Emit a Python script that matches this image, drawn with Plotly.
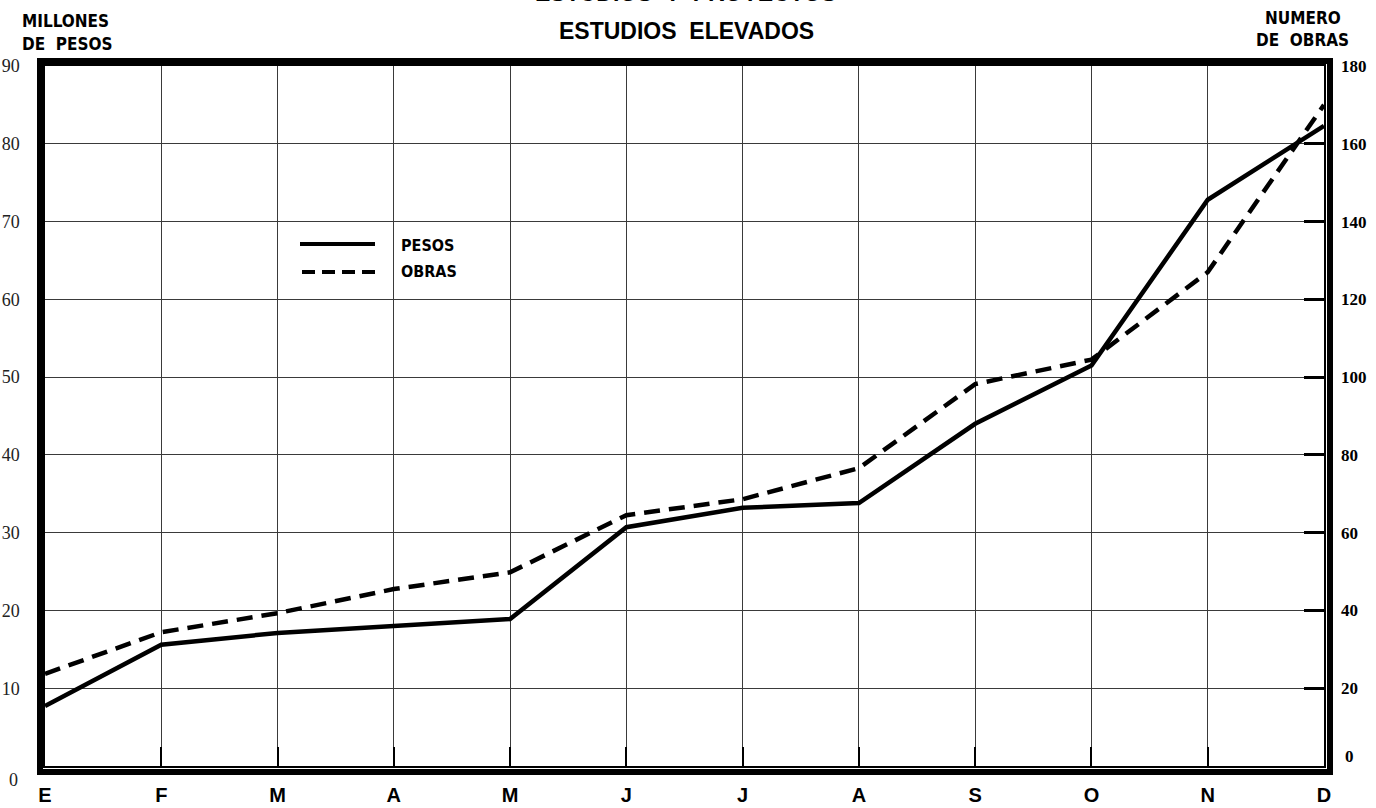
import plotly.graph_objects as go

months = ["E", "F", "M", "A", "M", "J", "J", "A", "S", "O", "N", "D"]
pesos = [7.7, 15.6, 17.1, 18.0, 18.9, 30.7, 33.2, 33.8, 44.0, 51.5, 72.8, 82.3]
obras = [23.7, 34.4, 39.3, 45.5, 49.8, 64.5, 68.6, 76.6, 98.2, 104.5, 127.0, 170.0]
left_ticks = [10, 20, 30, 40, 50, 60, 70, 80, 90]
right_ticks = [20, 40, 60, 80, 100, 120, 140, 160, 180]

W, H = 1376, 808
L, R, T, B = 45, 1324, 66, 766
PW, PH = R - L, B - T


def px(x):
    return (x - L) / PW


def py(y):
    return (B - y) / PH


xs = list(range(len(months)))

fig = go.Figure()
fig.add_trace(go.Scatter(x=xs, y=pesos, mode="lines", name="PESOS",
                         line=dict(color="black", width=4.5), yaxis="y"))
fig.add_trace(go.Scatter(x=xs, y=obras, mode="lines", name="OBRAS",
                         line=dict(color="black", width=4.5, dash="16px,9px"),
                         yaxis="y2"))

grid = "#3a3a3a"
fig.update_layout(
    width=W, height=H,
    margin=dict(l=L, r=W - R, t=T, b=H - B, autoexpand=False),
    paper_bgcolor="white", plot_bgcolor="white",
    showlegend=False,
    xaxis=dict(range=[0, 11], tickvals=xs, ticktext=months,
               showgrid=True, gridcolor=grid, gridwidth=1,
               showline=True, linecolor="black", linewidth=1.5, mirror=True,
               ticks="inside", ticklen=19, tickwidth=2, tickcolor="black",
               ticklabelstandoff=10,
               tickfont=dict(family="Liberation Sans, Arial", size=20, color="black", weight="bold"),
               zeroline=False, fixedrange=True, automargin=False),
    yaxis=dict(range=[0, 90], tickvals=left_ticks,
               showgrid=True, gridcolor=grid, gridwidth=1,
               showline=True, linecolor="black", linewidth=1.5, mirror=True,
               ticks="", ticklabelstandoff=20,
               tickfont=dict(family="Liberation Serif, Times New Roman", size=18, color="#222"),
               zeroline=False, automargin=False),
    yaxis2=dict(range=[0, 180], tickvals=right_ticks, overlaying="y", side="right",
                showgrid=False, showline=False,
                ticks="inside", ticklen=20, tickwidth=2.5, tickcolor="black",
                ticklabelstandoff=16,
                tickfont=dict(family="Liberation Serif, Times New Roman", size=17, color="black", weight="bold"),
                zeroline=False, automargin=False),
)

# outer thick frame
fig.add_shape(type="rect", xref="paper", yref="paper",
              x0=px(40), x1=px(1330), y0=py(772), y1=py(61),
              line=dict(color="black", width=6), layer="above")

# legend (drawn by hand)
fig.add_shape(type="line", xref="paper", yref="paper",
              x0=px(300), x1=px(375), y0=py(244), y1=py(244),
              line=dict(color="black", width=4))
fig.add_shape(type="line", xref="paper", yref="paper",
              x0=px(302), x1=px(375), y0=py(272), y1=py(272),
              line=dict(color="black", width=4, dash="13px,7px"))

ann_font = dict(family="Liberation Sans Narrow, DejaVu Sans Condensed, Arial Narrow", size=16,
                color="black", weight="bold")
anns = [
    dict(text="PESOS", x=px(399), y=py(246), xanchor="left", yanchor="middle", font=ann_font),
    dict(text="OBRAS", x=px(399), y=py(271), xanchor="left", yanchor="middle", font=ann_font),
    dict(text="MILLONES", x=px(20), y=py(21), xanchor="left", yanchor="middle",
         font=dict(ann_font, size=17)),
    dict(text="DE  PESOS", x=px(20), y=py(44), xanchor="left", yanchor="middle",
         font=dict(ann_font, size=17)),
    dict(text="NUMERO", x=px(1303), y=py(18), xanchor="center", yanchor="middle",
         font=dict(ann_font, size=17)),
    dict(text="DE  OBRAS", x=px(1302), y=py(40), xanchor="center", yanchor="middle",
         font=dict(ann_font, size=17)),
    dict(text="ESTUDIOS  ELEVADOS", x=px(686), y=py(31), xanchor="center", yanchor="middle",
         font=dict(family="Liberation Sans, Arial", size=23, color="black", weight="bold")),
    dict(text="ESTUDIOS  Y  PROYECTOS", x=px(686), y=py(-7), xanchor="center", yanchor="middle",
         font=dict(family="Liberation Sans, Arial", size=23, color="black", weight="bold")),
    dict(text="0", x=px(13), y=py(780), xanchor="center", yanchor="middle",
         font=dict(family="Liberation Serif, Times New Roman", size=18, color="#222")),
    dict(text="0", x=px(1349), y=py(756), xanchor="center", yanchor="middle",
         font=dict(family="Liberation Serif, Times New Roman", size=17, color="black", weight="bold")),
]
for a in anns:
    a.update(xref="paper", yref="paper", showarrow=False)
fig.update_layout(annotations=anns)

fig.write_html("out.html", config={"displayModeBar": False},
               post_script="document.body.style.margin='0px';document.body.style.overflow='hidden';")
